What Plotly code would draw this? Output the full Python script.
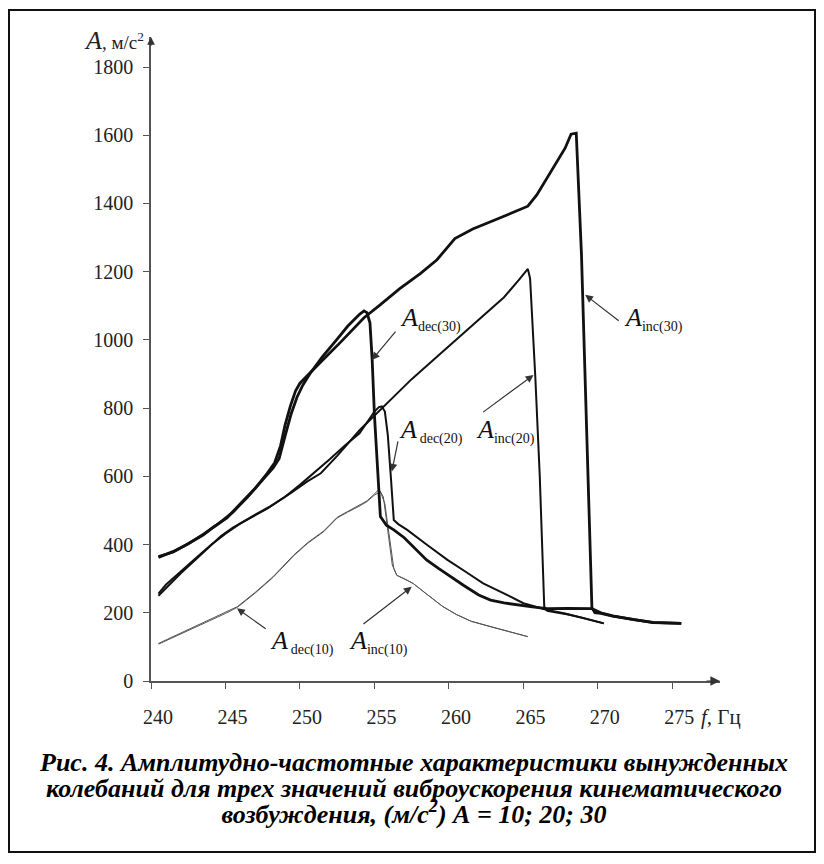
import plotly.graph_objects as go

# ---------------- data ----------------
inc30_f = [240.5, 241.5, 242.4, 243.5, 244.2, 245.1, 246.0, 247.0, 247.8, 248.3, 248.7, 249.0, 249.35, 249.7,
           250.0, 250.7, 251.4, 252.7, 253.5, 254.3, 255.3, 256.7, 258.1, 259.2, 260.4, 261.6, 263.0, 264.5,
           265.3, 265.9, 266.9, 267.8, 268.2, 268.55, 268.9, 269.2, 269.5, 269.6, 269.8, 270.2, 271.0, 272.4,
           273.7, 275.6]
inc30_a = [365, 378, 400, 428, 452, 478, 520, 565, 609, 640, 690, 750, 805, 850,
           873, 905, 935, 992, 1030, 1065, 1100, 1150, 1195, 1235, 1297, 1325, 1350, 1378,
           1392, 1425, 1497, 1562, 1603, 1606, 1250, 800, 350, 215, 200, 198, 190, 179,
           171, 169]

dec30_f = [275.6, 273.7, 272.4, 271.0, 270.2, 269.6, 268.0, 266.6, 265.6, 264.6, 263.7, 262.8, 262.0, 261.0,
           260.1, 259.3, 258.5, 257.7, 257.0, 256.3, 255.8, 255.4, 255.2, 255.0, 254.85, 254.7, 254.5, 254.3,
           254.0, 253.2, 252.5, 251.5, 250.7, 250.2, 249.8, 249.4, 249.0, 248.6, 248.2, 247.5, 246.5, 245.5,
           244.5, 243.5, 242.5, 241.5, 240.5]
dec30_a = [169, 172, 180, 191, 200, 212, 213, 212, 217, 223, 229, 237, 252, 280,
           306, 330, 355, 390, 420, 443, 457, 482, 620, 780, 940, 1050, 1080, 1085,
           1075, 1040, 1002, 950, 903, 868, 832, 782, 718, 652, 625, 590, 540, 495,
           460, 430, 402, 380, 362]

inc20_f = [240.5, 241.0, 242.0, 243.0, 244.0, 244.7, 245.5, 246.7, 247.8, 249.35, 250.5, 251.4, 252.5, 254.0,
           255.0, 256.0, 256.7, 257.5, 258.8, 260.6, 262.5, 263.7, 264.7, 265.1, 265.3, 265.45, 265.8, 266.1,
           266.35, 266.4, 266.6, 267.0, 268.0, 269.0, 270.4]
inc20_a = [250, 272, 316, 356, 398, 425, 450, 480, 505, 550, 585, 609, 660, 735,
           778, 822, 853, 885, 935, 1005, 1080, 1125, 1176, 1196, 1208, 1180, 892, 600,
           306, 218, 206, 203, 195, 185, 169]

dec20_f = [270.4, 269.0, 267.8, 266.6, 265.8, 265.0, 264.0, 263.2, 262.3, 261.2, 259.9, 258.5, 257.2, 256.6,
           256.3, 256.1, 255.9, 255.7, 255.5, 255.3, 255.0, 254.0, 253.0, 252.0, 251.0, 250.0, 249.0, 248.0,
           247.0, 246.0, 245.0, 244.0, 243.0, 242.0, 241.0, 240.5]
dec20_a = [169, 185, 198, 208, 218, 228, 250, 268, 286, 318, 355, 400, 443, 460,
           472, 600, 720, 790, 805, 803, 790, 726, 690, 650, 612, 575, 540, 512,
           488, 462, 432, 398, 360, 322, 282, 256]

inc10_f = [240.5, 242.0, 243.5, 245.0, 245.8, 247.0, 248.2, 249.6, 250.5, 251.6, 252.5, 253.2, 254.05, 254.5,
           255.0, 255.3, 255.6, 255.9, 256.2, 256.5, 257.0, 257.6, 258.5, 259.6, 260.5, 261.5, 262.8, 264.0,
           265.3]
inc10_a = [110, 140, 170, 200, 218, 260, 306, 370, 405, 440, 480, 497, 516, 528,
           548, 562, 540, 440, 340, 310, 300, 286, 255, 218, 195, 175, 159, 145,
           130]

dec10_f = [265.3, 264.0, 262.8, 261.5, 260.5, 259.6, 258.5, 257.6, 257.0, 256.5, 256.3, 256.0, 255.7, 255.4,
           255.0, 254.5, 254.05, 253.2, 252.5, 251.6, 250.5, 249.6, 248.2, 247.0, 245.8, 245.0, 243.5, 242.0,
           240.5]
dec10_a = [130, 145, 159, 175, 195, 218, 255, 286, 300, 310, 330, 420, 520, 555,
           545, 526, 514, 495, 478, 438, 403, 368, 304, 258, 216, 198, 168, 138,
           108]

x_ticks = [240, 245, 250, 255, 260, 265, 270, 275]
y_ticks = [0, 200, 400, 600, 800, 1000, 1200, 1400, 1600, 1800]

# label texts, arrow tips (on curves) and arrow tails, in data units
label_main = ["A", "A", "A", "A", "A", "A"]
label_sub = ["dec(30)", "\u2009dec(20)", "inc(20)", "inc(30)", "\u2009dec(10)", "inc(10)"]
label_f = [256.55, 256.5, 261.7, 271.6, 247.85, 253.15]
label_a = [1060, 732, 732, 1060, 113, 113]
tip_f = [254.83, 256.17, 265.68, 269.15, 245.77, 257.5]
tip_a = [941, 614, 897, 1132, 213, 276]
tail_f = [256.5, 256.6, 262.2, 271.5, 247.8, 254.16]
tail_a = [1029, 707, 785, 1053, 150, 164]

caption_lines = ["Рис. 4. Амплитудно-частотные характеристики вынужденных",
                 "колебаний для трех значений виброускорения кинематического",
                 "возбуждения, (м/с<sup>2</sup>) А = 10; 20; 30"]

# ---------------- figure ----------------
W, H = 824, 864
L, R, T, B = 151, 104, 37, 183
PW, PH = W - L - R, H - T - B
X_MAX, Y_MAX = 278.2, 1888

def px(xp):
    return (xp - L) / PW

def py(yp):
    return (H - B - yp) / PH

fig = go.Figure()
line_col = "#111111"
fig.add_trace(go.Scatter(x=inc10_f, y=inc10_a, mode="lines", line=dict(color="#555555", width=1)))
fig.add_trace(go.Scatter(x=dec10_f, y=dec10_a, mode="lines", line=dict(color="#555555", width=1)))
fig.add_trace(go.Scatter(x=inc20_f, y=inc20_a, mode="lines", line=dict(color=line_col, width=2)))
fig.add_trace(go.Scatter(x=dec20_f, y=dec20_a, mode="lines", line=dict(color=line_col, width=2)))
fig.add_trace(go.Scatter(x=inc30_f, y=inc30_a, mode="lines", line=dict(color=line_col, width=2.8)))
fig.add_trace(go.Scatter(x=dec30_f, y=dec30_a, mode="lines", line=dict(color=line_col, width=2.8)))

serif = "Liberation Serif, Times New Roman, serif"
axis_col = "#555555"
fig.update_layout(
    width=W, height=H, showlegend=False,
    paper_bgcolor="white", plot_bgcolor="white",
    margin=dict(l=L, r=R, t=T, b=B, pad=0),
    font=dict(family=serif, size=20, color="#222222"),
    xaxis=dict(range=[240, X_MAX], tickvals=x_ticks, ticktext=[str(v) for v in x_ticks],
               showgrid=False, zeroline=False, showline=True, linecolor=axis_col, linewidth=1.5,
               ticks="outside", ticklen=6, tickwidth=1.2, tickcolor=axis_col,
               ticklabelstandoff=11, ticklabelshift=7,
               tickfont=dict(family=serif, size=20, color="#222222")),
    yaxis=dict(range=[0, Y_MAX], tickvals=y_ticks, ticktext=[str(v) for v in y_ticks],
               showgrid=False, zeroline=False, showline=True, linecolor=axis_col, linewidth=1.5,
               ticks="outside", ticklen=6, tickwidth=1.2, tickcolor=axis_col,
               ticklabelstandoff=6,
               tickfont=dict(family=serif, size=20, color="#222222")),
)

ann = []
# curve labels and arrows
for m, s, lf, la, hf, ha, tf, ta in zip(label_main, label_sub, label_f, label_a, tip_f, tip_a, tail_f, tail_a):
    txt = "<i>" + m + "</i><sub><span style='font-size:14px'>" + s + "</span></sub>"
    ann.append(dict(x=lf, y=la, xref="x", yref="y", text=txt, showarrow=False,
                    xanchor="left", yanchor="middle", font=dict(family=serif, size=26, color="#111111")))
    ann.append(dict(x=hf, y=ha, ax=tf, ay=ta, xref="x", yref="y", axref="x", ayref="y", text="",
                    showarrow=True, arrowhead=2, arrowsize=1.3, arrowwidth=1.2, arrowcolor="#333333",
                    standoff=0, startstandoff=0))
# axis arrow heads
ann.append(dict(x=X_MAX, y=0, ax=X_MAX - 1.0, ay=0, xref="x", yref="y", axref="x", ayref="y", text="",
                showarrow=True, arrowhead=2, arrowsize=1.6, arrowwidth=1.2, arrowcolor="#333333",
                standoff=0, startstandoff=0))
ann.append(dict(x=240, y=Y_MAX, ax=240, ay=Y_MAX - 30, xref="x", yref="y", axref="x", ayref="y", text="",
                showarrow=True, arrowhead=2, arrowsize=1.3, arrowwidth=1.2, arrowcolor="#333333",
                standoff=0, startstandoff=0))
# axis titles
ann.append(dict(x=px(82), y=py(40), xref="paper", yref="paper", xanchor="left", yanchor="middle",
                text="<i><span style='font-size:26px'>A</span></i>, м/с<sup>2</sup>", showarrow=False,
                font=dict(family=serif, size=19, color="#222222")))
ann.append(dict(x=px(699), y=py(717), xref="paper", yref="paper", xanchor="left", yanchor="middle",
                text="<i>f</i>, Гц", showarrow=False, font=dict(family=serif, size=21, color="#222222")))
# caption: one text block, 26 px glyphs on a 26 px line pitch
cap_txt = "<br>".join("<b><i><span style='font-size:26px'>" + t + "</span></i></b>" for t in caption_lines)
ann.append(dict(x=px(413), y=py(788), xref="paper", yref="paper", xanchor="center", yanchor="middle",
                text=cap_txt, showarrow=False, align="center",
                font=dict(family=serif, size=20, color="#000000")))
fig.update_layout(annotations=ann)

# outer frame
fig.add_shape(type="rect", xref="paper", yref="paper", x0=px(9), x1=px(815), y0=py(852), y1=py(10),
              line=dict(color="#111111", width=2), fillcolor="rgba(0,0,0,0)", layer="above")

fig.write_html("out.html", config={"displayModeBar": False},
               post_script="document.body.style.margin='0px';document.body.style.overflow='hidden';")
